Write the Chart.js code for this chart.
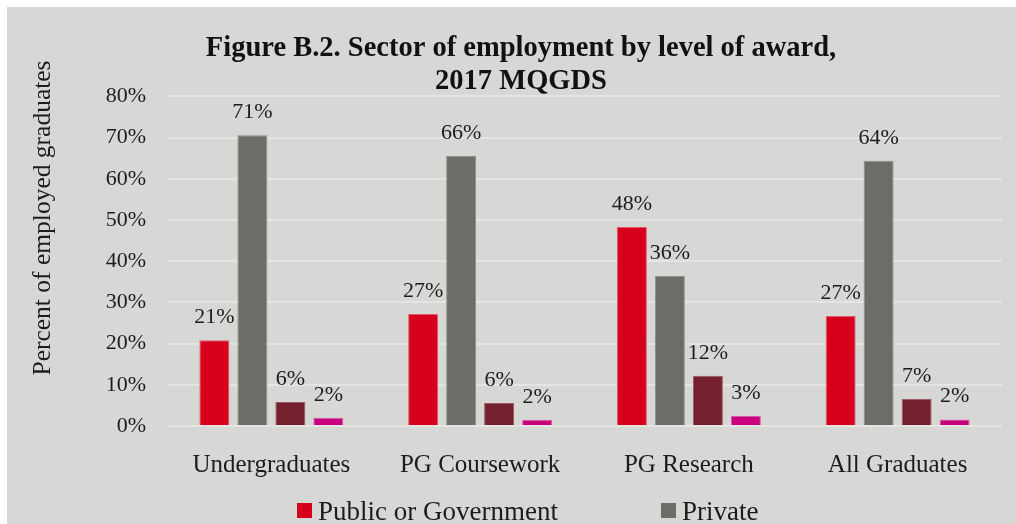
<!DOCTYPE html>
<html>
<head>
<meta charset="utf-8">
<script src="https://cdn.jsdelivr.net/npm/chart.js@4/dist/chart.umd.min.js"></script>
<style>
  html, body { margin: 0; padding: 0; background: #ffffff; overflow: hidden; }
  #wrap { position: relative; width: 1016px; height: 524px; }
</style>
</head>
<body>
<div id="wrap"><canvas id="sectorChart"></canvas></div>
<script>
const awardLevels = ["Undergraduates", "PG Coursework", "PG Research", "All Graduates"];
const publicGov = [20.8, 27.2, 48.3, 26.7];
const privateSec = [70.6, 65.6, 36.4, 64.4];
const notForProfit = [5.8, 5.6, 12.2, 6.6];
const otherSec = [2.0, 1.5, 2.5, 1.6];
const yTicks = [0, 10, 20, 30, 40, 50, 60, 70, 80];

const serif = "'Liberation Serif', 'DejaVu Serif', serif";
const inkColor = "#1c1c1c";

// gray panel behind everything
const panelPlugin = {
  id: "panel",
  beforeDraw(chart) {
    const ctx = chart.ctx;
    ctx.save();
    ctx.fillStyle = "#ffffff";
    ctx.fillRect(0, 0, chart.width, chart.height);
    ctx.fillStyle = "#d7d8d5";
    ctx.fillRect(7, 7, chart.width - 7, chart.height - 7);
    ctx.restore();
  },
};

// percentage above each bar, plus the rotated axis title and the legend
const extrasPlugin = {
  id: "extras",
  afterDatasetsDraw(chart) {
    const ctx = chart.ctx;
    ctx.save();
    ctx.fillStyle = inkColor;
    ctx.font = "22px " + serif;
    ctx.textAlign = "center";
    ctx.textBaseline = "alphabetic";
    chart.data.datasets.forEach((ds, i) => {
      chart.getDatasetMeta(i).data.forEach((bar, j) => {
        ctx.fillText(Math.round(ds.data[j]) + "%", bar.x, bar.y - 17);
      });
    });
    ctx.restore();
  },
  afterDraw(chart) {
    const ctx = chart.ctx;
    ctx.save();
    ctx.fillStyle = inkColor;
    ctx.font = "25.5px " + serif;
    ctx.translate(43, 218);
    ctx.rotate(-Math.PI / 2);
    ctx.textAlign = "center";
    ctx.textBaseline = "middle";
    ctx.fillText("Percent of employed graduates", 0, 0);
    ctx.restore();

    // legend laid out in two columns
    const cols = [297, 661];
    ctx.save();
    ctx.font = "27px " + serif;
    ctx.textBaseline = "alphabetic";
    ctx.textAlign = "left";
    chart.data.datasets.forEach((ds, i) => {
      const x = cols[i % 2];
      const y = 520 + Math.floor(i / 2) * 34;
      ctx.fillStyle = ds.backgroundColor;
      ctx.fillRect(x, y - 17, 15, 15);
      ctx.fillStyle = inkColor;
      ctx.fillText(ds.label, x + 21, y);
    });
    ctx.restore();
  },
};

new Chart(document.getElementById("sectorChart"), {
  type: "bar",
  data: {
    labels: awardLevels,
    datasets: [
      { label: "Public or Government", data: publicGov, backgroundColor: "#d6001c", borderColor: "#e2566c" },
      { label: "Private", data: privateSec, backgroundColor: "#6a6e66", borderColor: "#8c8f88" },
      { label: "Not-for-profit", data: notForProfit, backgroundColor: "#74202e", borderColor: "#9a5661" },
      { label: "Other", data: otherSec, backgroundColor: "#c8007c", borderColor: "#dc5aa6" },
    ],
  },
  options: {
    responsive: true,
    maintainAspectRatio: false,
    animation: false,
    layout: { padding: { left: 40, right: 14, top: 0, bottom: 0 } },
    datasets: {
      bar: { borderWidth: 1, categoryPercentage: 0.728, barPercentage: 0.79 },
    },
    plugins: {
      legend: { display: false },
      tooltip: { enabled: false },
      title: {
        display: true,
        text: ["Figure B.2. Sector of employment by level of award,", "2017 MQGDS"],
        color: "#111111",
        font: { family: serif, size: 28.5, weight: "bold", lineHeight: 1.13 },
        padding: { top: 33, bottom: -1 },
      },
    },
    scales: {
      x: {
        grid: { display: false },
        border: { display: false },
        ticks: { color: inkColor, font: { family: serif, size: 25 }, padding: 16, maxRotation: 0 },
        afterFit(scale) { scale.height = 98; },
      },
      y: {
        min: 0,
        max: 80,
        afterBuildTicks(scale) { scale.ticks = yTicks.map((v) => ({ value: v })); },
        grid: { color: "#e4e5e2", lineWidth: 2, drawTicks: false },
        border: { display: false },
        ticks: {
          color: inkColor,
          font: { family: serif, size: 22 },
          padding: 21,
          callback: (v) => v + "%",
        },
        afterFit(scale) { scale.width = 127; },
      },
    },
  },
  plugins: [panelPlugin, extrasPlugin],
});
</script>
</body>
</html>
